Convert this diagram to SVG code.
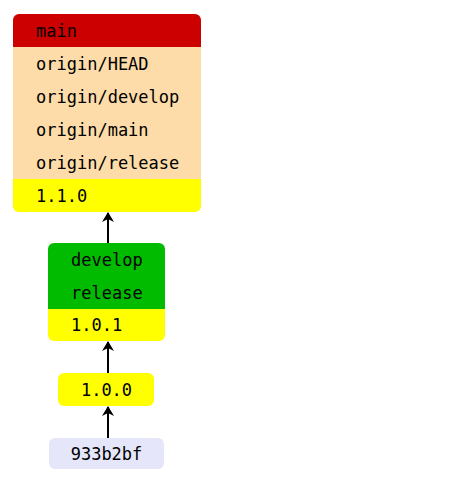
<svg xmlns="http://www.w3.org/2000/svg" width="454" height="496" viewBox="0 0 454 496">
<style>
text{font-family:"DejaVu Sans Mono","Liberation Mono",monospace;font-size:17px;fill:#000;dominant-baseline:central}
.c{stroke:#000;stroke-width:2;fill:none}
</style>
<defs>
<marker id="ah" viewBox="0 0 10 12" refX="9" refY="6" markerWidth="11" markerHeight="12" markerUnits="userSpaceOnUse" orient="auto">
<path d="M0,0 L10,6 L0,12 L3,6 Z" fill="#000"/>
</marker>
<clipPath id="cp1"><rect x="13" y="14" width="188" height="198" rx="6"/></clipPath>
<clipPath id="cp2"><rect x="48" y="243" width="117" height="98" rx="6"/></clipPath>
</defs>
<rect width="454" height="496" fill="#fff"/>
<g id="connectors">
<line class="c" x1="108" y1="438" x2="108" y2="407" marker-end="url(#ah)"/>
<line class="c" x1="108" y1="373" x2="108" y2="342" marker-end="url(#ah)"/>
<line class="c" x1="108" y1="243" x2="108" y2="213" marker-end="url(#ah)"/>
</g>
<g id="node-main">
<g clip-path="url(#cp1)">
<rect x="13" y="14" width="188" height="33" fill="#CC0000"/>
<rect x="13" y="47" width="188" height="132" fill="#FDDCA9"/>
<rect x="13" y="179" width="188" height="33" fill="#FFFF00"/>
</g>
<text x="36" y="30.5">main</text>
<text x="36" y="63.5">origin/HEAD</text>
<text x="36" y="96.5">origin/develop</text>
<text x="36" y="129.5">origin/main</text>
<text x="36" y="162.5">origin/release</text>
<text x="36" y="195.5">1.1.0</text>
</g>
<g id="node-develop">
<g clip-path="url(#cp2)">
<rect x="48" y="243" width="117" height="66" fill="#00BB00"/>
<rect x="48" y="309" width="117" height="32" fill="#FFFF00"/>
</g>
<text x="71" y="259.5">develop</text>
<text x="71" y="292.5">release</text>
<text x="71" y="325">1.0.1</text>
</g>
<g id="node-100">
<rect x="58" y="373" width="96" height="33" rx="6" fill="#FFFF00"/>
<text x="106.5" y="389.5" text-anchor="middle">1.0.0</text>
</g>
<g id="node-933b2bf">
<rect x="49" y="438" width="115" height="31" rx="6" fill="#E6E6FA"/>
<text x="106.5" y="453.5" text-anchor="middle">933b2bf</text>
</g>
</svg>
